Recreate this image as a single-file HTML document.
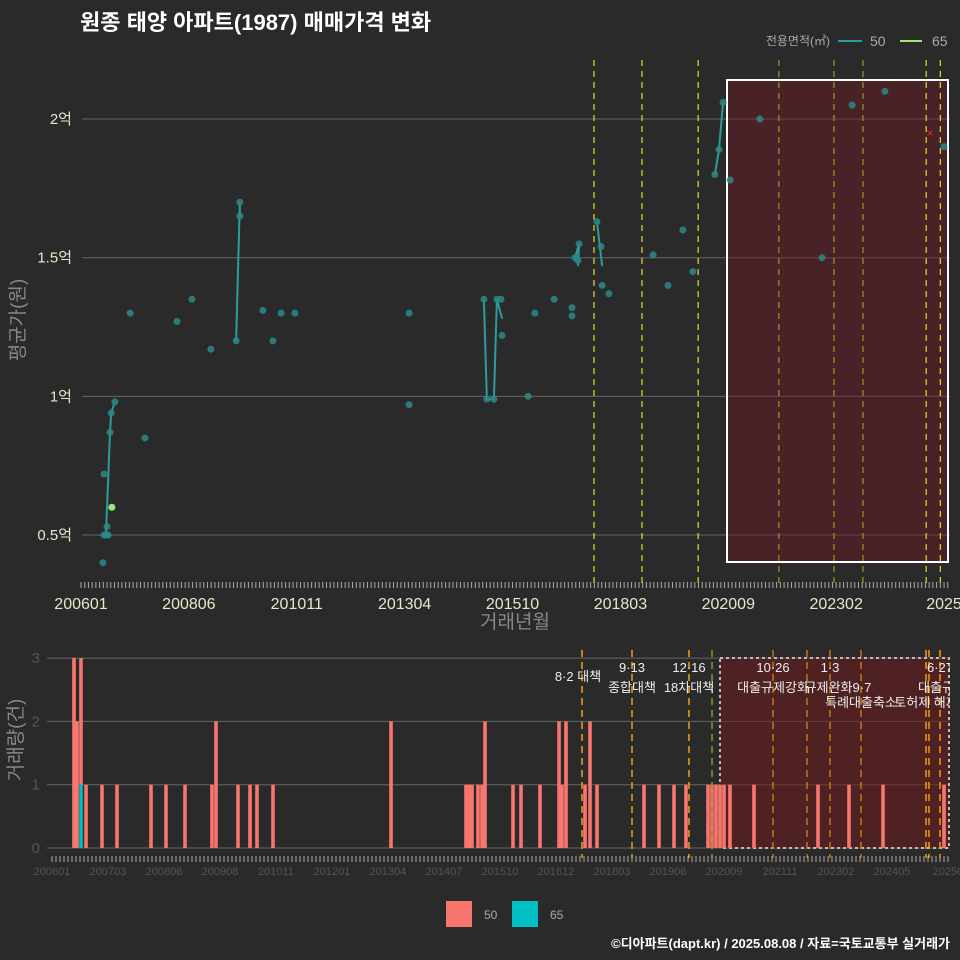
<!DOCTYPE html>
<html><head><meta charset="utf-8"><style>
html,body{margin:0;padding:0;background:#2a2a2b;}
svg{display:block;font-family:"Liberation Sans","Noto Sans CJK KR",sans-serif;}
</style></head><body>
<svg id="c" width="960" height="960" viewBox="0 0 960 960" xmlns="http://www.w3.org/2000/svg">
<rect x="0" y="0" width="960" height="960" fill="#2a2a2b"/>
<text x="80" y="30" fill="#ffffff" font-size="22" font-weight="bold">원종 태양 아파트(1987) 매매가격 변화</text>
<g id="topg"></g>
<g id="botg"></g>
<g>
<text x="830" y="45" fill="#aaaaaa" font-size="12" text-anchor="end">전용면적(㎡)</text>
<line x1="838" y1="41" x2="862" y2="41" stroke="#2a9d9a" stroke-width="2"/>
<text x="870" y="46" fill="#aaaaaa" font-size="14">50</text>
<line x1="900" y1="41" x2="922" y2="41" stroke="#9be870" stroke-width="2"/>
<text x="932" y="46" fill="#aaaaaa" font-size="14">65</text>
</g>
<g>
<rect x="446" y="901" width="26" height="26" fill="#f8766d"/>
<text x="484" y="919" fill="#aaaaaa" font-size="12">50</text>
<rect x="512" y="901" width="26" height="26" fill="#00bfc4"/>
<text x="550" y="919" fill="#aaaaaa" font-size="12">65</text>
</g>
<text x="950" y="948" fill="#ffffff" font-size="13" font-weight="bold" text-anchor="end">©디아파트(dapt.kr) / 2025.08.08 / 자료=국토교통부 실거래가</text>
</svg>
<script>
// ---- price chart data (month index, 억) ----
const pts50M = [5.9,6.2,6.7,7.3,6.2,7.0,7.8,8.1,9.1,13.2,17.2,25.8,29.8,34.9,41.7,42.7,42.7,48.9,51.6,53.8,57.5,88.2,88.2,108.3,109.1,111,111.8,112.9,113.2,120.2,122,127.2,132,132,132.8,133.9,133.6,138.7,139.8,140.1,141.9,153.8,157.8,161.8,164.5,170.4,171.5,172.6,174.5,182.5,199.2,207.3,216.1,232];
const pts50V = [0.40,0.50,0.50,0.50,0.72,0.53,0.87,0.94,0.98,1.30,0.85,1.27,1.35,1.17,1.20,1.70,1.65,1.31,1.20,1.30,1.30,1.30,0.97,1.35,0.99,0.99,1.35,1.35,1.22,1.00,1.30,1.35,1.29,1.32,1.50,1.55,1.49,1.63,1.54,1.40,1.37,1.51,1.40,1.60,1.45,1.80,1.89,2.06,1.78,2.00,1.50,2.05,2.10,1.90];
const pts65M = [8.3];
const pts65V = [0.60];
const lineRunsM = [[6.7,7.8,8.1,9.1],[41.7,42.7,42.7],[108.3,109.1,111,111.8,113.2],[132.8,133.9,133.6],[138.7,140.1],[170.4,171.5,172.6]];
const lineRunsV = [[0.50,0.87,0.94,0.98],[1.20,1.70,1.65],[1.35,0.99,0.99,1.35,1.28],[1.50,1.55,1.47],[1.63,1.47],[1.80,1.89,2.06]];
const crossM = [228.2];
const crossV = [1.95];
const yTicks = [0.5,1,1.5,2];
const yTickLabels = ["0.5억","1억","1.5억","2억"];
const topXLabels = ["200601","200806","201011","201304","201510","201803","202009","202302","2025"];
const topEvents = [137.9,150.8,165.9,187.6,202.4,210.2,227.2,231];
// ---- volume chart data ----
const barM = [5.5,6.25,7.25,8.5,12.5,16.25,24.75,28.5,33.25,40,41,46.5,49.5,51.25,55.25,84.75,103.5,104.25,105,106.5,107.5,108.25,115.25,117.25,122,126.75,127.5,128.5,133.25,134.5,136.25,148,151.75,155.5,158.5,164,165,166,167,168,169.5,175.5,191.5,199.25,207.75,223];
const bar50 = [3,2,2,1,1,1,1,1,1,1,2,1,1,1,1,2,1,1,1,1,1,2,1,1,1,2,1,2,1,2,1,1,1,1,1,1,1,1,1,1,1,1,1,1,1,1];
const bar65 = [0,0,1,0,0,0,0,0,0,0,0,0,0,0,0,0,0,0,0,0,0,0,0,0,0,0,0,0,0,0,0,0,0,0,0,0,0,0,0,0,0,0,0,0,0,0];
const botYTicks = [0,1,2,3];
const botXLabels = ["200601","200703","200806","200908","201011","201201","201304","201407","201510","201612","201803","201906","202009","202111","202302","202405","20250"];
const botEvents = [132.5,145,159.25,165,180.25,188.75,194.5,202.25,218.5,219.25,222];
(function(){
const NS="http://www.w3.org/2000/svg";
function mk(parent,tag,attrs,text){const e=document.createElementNS(NS,tag);for(const k in attrs)e.setAttribute(k,attrs[k]);if(text!==undefined)e.textContent=text;parent.appendChild(e);return e;}
const tx=m=>81+m*3.72;
const ty=v=>535-(v-0.5)*277.3;
const topG=document.getElementById('topg');
yTicks.forEach((v,i)=>{
 let l=mk(topG,'line',{x1:82,x2:950,y1:ty(v),y2:ty(v),stroke:'#666666','stroke-width':1});
 
 
 let t=mk(topG,'text',{x:72,y:ty(v)+5,fill:'#e8e8c8','font-size':15,'text-anchor':'end'},yTickLabels[i]);
 
 
});
let rz=mk(topG,'rect',{x:727,y:80,width:221,height:482,fill:'rgba(110,25,35,0.45)',stroke:'#ffffff','stroke-width':2});


topEvents.forEach((m,i)=>{
 let l=mk(topG,'line',{x1:tx(m),x2:tx(m),y1:60,y2:588,stroke:(i>=3&&i<=5)?'#9a9a20':'#e0e020','stroke-width':1.2,'stroke-dasharray':'6,5'});
 
 
});
for(let m=0;m<=233;m++){
 let l=mk(topG,'line',{x1:tx(m),x2:tx(m),y1:582,y2:588,stroke:'#aaaaaa','stroke-width':1});
 
 
}
topXLabels.forEach((s,i)=>{
 let t=mk(topG,'text',{x:tx(i*29),y:609,fill:'#e8e8c8','font-size':16,'text-anchor':'middle'},s);
 
 
});
lineRunsM.forEach((run,r)=>{
 const d=run.map((m,i)=>(i?'L':'M')+tx(m)+','+ty(lineRunsV[r][i])).join(' ');
 let p=mk(topG,'path',{d:d,fill:'none',stroke:'#2a9d9a','stroke-width':2});
 
 
});
pts50M.forEach((m,i)=>{
 let c=mk(topG,'circle',{cx:tx(m),cy:ty(pts50V[i]),r:3.5,fill:'#2a8a88','fill-opacity':0.85});
 
 
});
pts65M.forEach((m,i)=>{
 let c=mk(topG,'circle',{cx:tx(m),cy:ty(pts65V[i]),r:3.5,fill:'#9be870'});
 
 
});
crossM.forEach((m,i)=>{
 let t=mk(topG,'text',{x:tx(m),y:ty(crossV[i])+4,fill:'#ff2020','font-size':12,'text-anchor':'middle'},'×');
 
 
});
let yt=mk(topG,'text',{x:24,y:320,fill:'#888888','font-size':19,'text-anchor':'middle',transform:'rotate(-90 24 320)'},'평균가(원)');


let xt=mk(topG,'text',{x:515,y:628,fill:'#888888','font-size':19,'text-anchor':'middle'},'거래년월');


// ---- bottom axes ----
const bx=m=>52+m*4.0;
const by=v=>848-v*63.3;
const botG=document.getElementById('botg');
botYTicks.forEach(v=>{
 let l=mk(botG,'line',{x1:47,x2:950,y1:by(v),y2:by(v),stroke:'#666666','stroke-width':1});
 
 
 let t=mk(botG,'text',{x:40,y:by(v)+5,fill:'#555555','font-size':15,'text-anchor':'end'},String(v));
 
 
});
let rz2=mk(botG,'rect',{x:720,y:658,width:229,height:190,fill:'rgba(110,25,30,0.55)',stroke:'#bbbbbb','stroke-width':2,'stroke-dasharray':'3,3'});


barM.forEach((m,i)=>{
 const x=bx(m)-1.8;
 if(bar50[i]>0){let r=mk(botG,'rect',{x:x,y:by(bar50[i]+bar65[i]),width:3.6,height:bar50[i]*63.3,fill:'#f8766d'});
 
 }
 if(bar65[i]>0){let r=mk(botG,'rect',{x:x,y:by(bar65[i]),width:3.6,height:bar65[i]*63.3,fill:'#00bfc4'});
 
 }
});
botEvents.forEach((m,i)=>{
 let l=mk(botG,'line',{x1:bx(m),x2:bx(m),y1:650,y2:858,stroke:(i==3)?'#a09020':(i>=4&&i<=7?'#c07a10':'#f0a010'),'stroke-width':1.5,'stroke-dasharray':'7,5'});
 
 
});
for(let m=0;m<=224;m++){
 let l=mk(botG,'line',{x1:bx(m),x2:bx(m),y1:856,y2:862,stroke:'#aaaaaa','stroke-width':1});
 
 
}
botXLabels.forEach((s,i)=>{
 let t=mk(botG,'text',{x:bx(i*14),y:875,fill:'#555555','font-size':11,'text-anchor':'middle'},s);
 
 
});
const ann=[[578,681,'8·2 대책'],[632,672,'9·13'],[632,692,'종합대책'],[689,672,'12·16'],[689,692,'18차대책'],[773,672,'10·26'],[773,692,'대출규제강화'],[830,672,'1·3'],[838,692,'규제완화9·7'],[861,707,'특례대출축소'],[926,707,'토허제 해제'],[940,672,'6·27'],[936,692,'대출규']];
ann.forEach(a=>{
 let t=mk(botG,'text',{x:a[0],y:a[1],fill:'#eeeeee','font-size':13,'text-anchor':'middle'},a[2]);
 
 
});
let cover=mk(botG,'rect',{x:950,y:640,width:10,height:80,fill:'#2a2a2b'});


let yt2=mk(botG,'text',{x:22,y:740,fill:'#888888','font-size':19,'text-anchor':'middle',transform:'rotate(-90 22 740)'},'거래량(건)');


})();
</script>
</body></html>
